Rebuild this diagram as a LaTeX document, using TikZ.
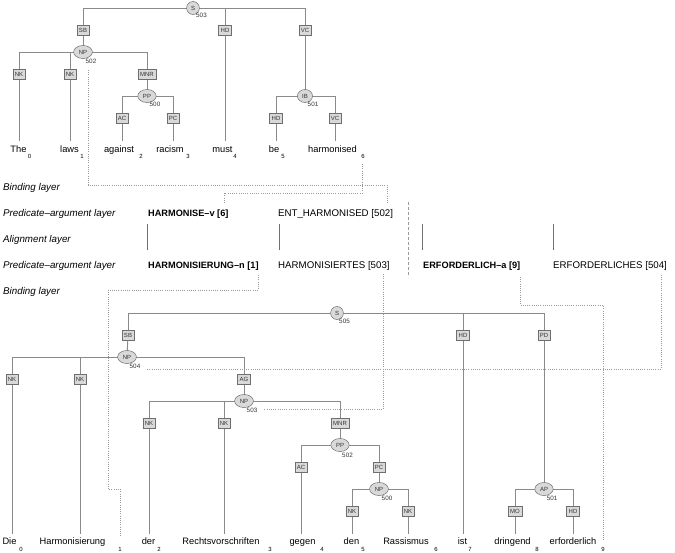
\documentclass[tikz,border=0pt]{standalone}
\usepackage{fontspec}
\setmainfont{Liberation Sans}
\usetikzlibrary{shapes.geometric,backgrounds}
\definecolor{edgegray}{HTML}{8A8A8A}
\definecolor{boxfill}{HTML}{D9D9D9}
\definecolor{boxdraw}{HTML}{6E6E6E}
\definecolor{dotgray}{HTML}{9A9A9A}
\definecolor{aligngray}{HTML}{707070}
\begin{document}
\begin{tikzpicture}[x=1pt,y=-1pt,
  edge/.style={draw=edgegray,line width=0.9pt},
  fn/.style={draw=boxdraw,fill=boxfill,line width=0.5pt,font=\fontsize{6}{6}\selectfont,text=black!80,inner xsep=2pt,inner ysep=0pt,minimum height=10pt},
  cat/.style={ellipse,draw=boxdraw,fill=boxfill,line width=0.5pt,font=\fontsize{6}{6}\selectfont,text=black!80,inner xsep=2.5pt,inner ysep=0pt,minimum height=13pt,minimum width=12.5pt},
  idx/.style={font=\fontsize{6.3}{6.3}\selectfont,inner sep=0pt,text=black!80},
  word/.style={font=\fontsize{9.3}{10}\selectfont,anchor=base,inner sep=0pt},
  subs/.style={font=\fontsize{6}{6}\selectfont,anchor=base,inner sep=0pt},
  layer/.style={font=\fontsize{9.8}{10}\selectfont\itshape,anchor=base west,inner sep=0pt},
  pred/.style={font=\fontsize{9.2}{10}\selectfont\bfseries,anchor=base west,inner sep=0pt},
  ent/.style={font=\fontsize{9.7}{10}\selectfont,anchor=base west,inner sep=0pt},
  bind/.style={draw=dotgray,line width=0.6pt,dash pattern=on 0.7pt off 1.5pt},
  sep/.style={draw=dotgray,line width=0.8pt,dash pattern=on 3pt off 2pt},
  alignline/.style={draw=aligngray,line width=0.7pt},
]
\useasboundingbox (0,0) rectangle (675,552);

% ---------- top tree ----------
\node[cat] (tS) at (193,8) {S};
\node[idx] (tSi) at (201.5,15.5) {503};
\node[fn] (tSB) at (83,30) {SB};
\node[fn] (tHD) at (225,30) {HD};
\node[fn] (tVC) at (305,30) {VC};
\node[cat] (tNP) at (83,52) {NP};
\node[idx] (tNPi) at (91,61) {502};
\node[fn] (tNK0) at (19,74) {NK};
\node[fn] (tNK1) at (70,74) {NK};
\node[fn] (tMNR) at (147,74) {MNR};
\node[cat] (tPP) at (147,96) {PP};
\node[idx] (tPPi) at (155,104.5) {500};
\node[fn] (tAC) at (122,118) {AC};
\node[fn] (tPC) at (173,118) {PC};
\node[cat] (tIB) at (305,96) {IB};
\node[idx] (tIBi) at (313,104.5) {501};
\node[fn] (tHD2) at (276,118) {HD};
\node[fn] (tVC2) at (335,118) {VC};

\coordinate (te0) at (19,141);
\coordinate (te1) at (70,141);
\coordinate (te2) at (122,141);
\coordinate (te3) at (173,141);
\coordinate (te4) at (225,141);
\coordinate (te5) at (276,141);
\coordinate (te6) at (335,141);

\node[word] (tw0) at (18.5,152) {The};          \node[subs] (ts0) at (29.5,158) {0};
\node[word] (tw1) at (69.5,152) {laws};         \node[subs] (ts1) at (82,158) {1};
\node[word] (tw2) at (119,152) {against};       \node[subs] (ts2) at (141,158) {2};
\node[word] (tw3) at (170,152) {racism};        \node[subs] (ts3) at (188,158) {3};
\node[word] (tw4) at (222.5,152) {must};        \node[subs] (ts4) at (235,158) {4};
\node[word] (tw5) at (274,152) {be};            \node[subs] (ts5) at (283,158) {5};
\node[word] (tw6) at (332.5,152) {harmonised};  \node[subs] (ts6) at (363,158) {6};

% ---------- layers ----------
\node[layer] (L1) at (3,190) {Binding layer};
\node[layer] (L2) at (3,216) {Predicate–argument layer};
\node[layer] (L3) at (3,242) {Alignment layer};
\node[layer] (L4) at (3,268) {Predicate–argument layer};
\node[layer] (L5) at (3,294) {Binding layer};

\node[pred] (p6) at (148,216) {HARMONISE–v [6]};
\node[ent] (e502) at (278,216) {ENT\_HARMONISED [502]};
\node[pred] (p1) at (148,268) {HARMONISIERUNG–n [1]};
\node[ent] (e503) at (278,268) {HARMONISIERTES [503]};
\node[pred] (p9) at (423,268) {ERFORDERLICH–a [9]};
\node[ent] (e504) at (553,268) {ERFORDERLICHES [504]};

\coordinate (a1t) at (147,224); \coordinate (a1b) at (147,250);
\coordinate (a2t) at (279,224); \coordinate (a2b) at (279,250);
\coordinate (a3t) at (422,224); \coordinate (a3b) at (422,250);
\coordinate (a4t) at (553,224); \coordinate (a4b) at (553,250);
\draw[alignline] (a1t) -- (a1b);
\draw[alignline] (a2t) -- (a2b);
\draw[alignline] (a3t) -- (a3b);
\draw[alignline] (a4t) -- (a4b);

\coordinate (sept) at (408,202); \coordinate (sepb) at (408,277);
\draw[sep] (sept) -- (sepb);

% ---------- bottom tree ----------
\node[cat] (bS) at (337,313) {S};
\node[idx] (bSi) at (344.5,321.5) {505};
\node[fn] (bSB) at (128,335) {SB};
\node[fn] (bHD) at (463,335) {HD};
\node[fn] (bPD) at (544,335) {PD};
\node[cat] (bNP4) at (127,357) {NP};
\node[idx] (bNP4i) at (135,366.5) {504};
\node[fn] (bNK0) at (12,379) {NK};
\node[fn] (bNK1) at (80,379) {NK};
\node[fn] (bAG) at (244,379) {AG};
\node[cat] (bNP3) at (244,401) {NP};
\node[idx] (bNP3i) at (252,410) {503};
\node[fn] (bNK2) at (149,423) {NK};
\node[fn] (bNK3) at (224,423) {NK};
\node[fn] (bMNR) at (340,423) {MNR};
\node[cat] (bPP) at (340,445) {PP};
\node[idx] (bPPi) at (347.5,455) {502};
\node[fn] (bAC) at (301,467) {AC};
\node[fn] (bPC) at (379,467) {PC};
\node[cat] (bNP0) at (379,489) {NP};
\node[idx] (bNP0i) at (387,498.5) {500};
\node[cat] (bAP) at (544,489) {AP};
\node[idx] (bAPi) at (552,498.5) {501};
\node[fn] (bNK5) at (352,511) {NK};
\node[fn] (bNK6) at (408,511) {NK};
\node[fn] (bMO) at (515,511) {MO};
\node[fn] (bHD2) at (573,511) {HD};

\coordinate (be0) at (12,534);
\coordinate (be1) at (80,534);
\coordinate (be2) at (149,534);
\coordinate (be3) at (224,534);
\coordinate (be4) at (301,534);
\coordinate (be5) at (352,534);
\coordinate (be6) at (408,534);
\coordinate (be7) at (463,534);
\coordinate (be8) at (515,534);
\coordinate (be9) at (573,534);

\node[word] (bw0) at (9.5,544) {Die};                  \node[subs] (bs0) at (21,551) {0};
\node[word] (bw1) at (72.5,544) {Harmonisierung};      \node[subs] (bs1) at (120,551) {1};
\node[word] (bw2) at (148.5,544) {der};                \node[subs] (bs2) at (159,551) {2};
\node[word] (bw3) at (221,544) {Rechtsvorschriften};   \node[subs] (bs3) at (270,551) {3};
\node[word] (bw4) at (302.5,544) {gegen};              \node[subs] (bs4) at (322,551) {4};
\node[word] (bw5) at (351.5,544) {den};                \node[subs] (bs5) at (363,551) {5};
\node[word] (bw6) at (406,544) {Rassismus};            \node[subs] (bs6) at (436,551) {6};
\node[word] (bw7) at (462.5,544) {ist};                \node[subs] (bs7) at (470,551) {7};
\node[word] (bw8) at (512.5,544) {dringend};           \node[subs] (bs8) at (537,551) {8};
\node[word] (bw9) at (573,544) {erforderlich};         \node[subs] (bs9) at (603,551) {9};

% ---------- binding lines ----------
\coordinate (dA1) at (88,70);   \coordinate (dA2) at (387,203);
\coordinate (dB1) at (362,164); \coordinate (dB2) at (224,203);
\coordinate (dC1) at (258,275); \coordinate (dC2) at (120,537);
\coordinate (dD1) at (383,274); \coordinate (dD2) at (263,409);
\coordinate (dE1) at (520,277); \coordinate (dE2) at (603,540);
\coordinate (dF1) at (661,275); \coordinate (dF2) at (147,369);
\draw[bind] (dA1) -- (88,185) -| (dA2);
\draw[bind] (dB1) -- (362,193) -| (dB2);
\draw[bind] (dC1) |- (108,290) -- (108,489) -| (dC2);
\draw[bind] (dD1) |- (dD2);
\draw[bind] (dE1) |- (603,305) -- (dE2);
\draw[bind] (dF1) |- (dF2);

% ---------- tree edges ----------
\begin{scope}[on background layer]
\draw[edge] (tS.center) -| (tSB.center);
\draw[edge] (tS.center) -| (tVC.center);
\draw[edge] (tS.center) -| (tHD.center);
\draw[edge] (tSB.center) -- (tNP.center);
\draw[edge] (tHD.center) -- (te4);
\draw[edge] (tVC.center) -- (tIB.center);
\draw[edge] (tNP.center) -| (tNK0.center);
\draw[edge] (tNP.center) -| (tNK1.center);
\draw[edge] (tNP.center) -| (tMNR.center);
\draw[edge] (tNK0.center) -- (te0);
\draw[edge] (tNK1.center) -- (te1);
\draw[edge] (tMNR.center) -- (tPP.center);
\draw[edge] (tPP.center) -| (tAC.center);
\draw[edge] (tPP.center) -| (tPC.center);
\draw[edge] (tAC.center) -- (te2);
\draw[edge] (tPC.center) -- (te3);
\draw[edge] (tIB.center) -| (tHD2.center);
\draw[edge] (tIB.center) -| (tVC2.center);
\draw[edge] (tHD2.center) -- (te5);
\draw[edge] (tVC2.center) -- (te6);

\draw[edge] (bS.center) -| (bSB.center);
\draw[edge] (bS.center) -| (bHD.center);
\draw[edge] (bS.center) -| (bPD.center);
\draw[edge] (bSB.center) -- (bNP4.center);
\draw[edge] (bHD.center) -- (be7);
\draw[edge] (bPD.center) -- (bAP.center);
\draw[edge] (bNP4.center) -| (bNK0.center);
\draw[edge] (bNP4.center) -| (bNK1.center);
\draw[edge] (bNP4.center) -| (bAG.center);
\draw[edge] (bNK0.center) -- (be0);
\draw[edge] (bNK1.center) -- (be1);
\draw[edge] (bAG.center) -- (bNP3.center);
\draw[edge] (bNP3.center) -| (bNK2.center);
\draw[edge] (bNP3.center) -| (bNK3.center);
\draw[edge] (bNP3.center) -| (bMNR.center);
\draw[edge] (bNK2.center) -- (be2);
\draw[edge] (bNK3.center) -- (be3);
\draw[edge] (bMNR.center) -- (bPP.center);
\draw[edge] (bPP.center) -| (bAC.center);
\draw[edge] (bPP.center) -| (bPC.center);
\draw[edge] (bAC.center) -- (be4);
\draw[edge] (bPC.center) -- (bNP0.center);
\draw[edge] (bNP0.center) -| (bNK5.center);
\draw[edge] (bNP0.center) -| (bNK6.center);
\draw[edge] (bNK5.center) -- (be5);
\draw[edge] (bNK6.center) -- (be6);
\draw[edge] (bAP.center) -| (bMO.center);
\draw[edge] (bAP.center) -| (bHD2.center);
\draw[edge] (bMO.center) -- (be8);
\draw[edge] (bHD2.center) -- (be9);
\end{scope}
\end{tikzpicture}
\end{document}
